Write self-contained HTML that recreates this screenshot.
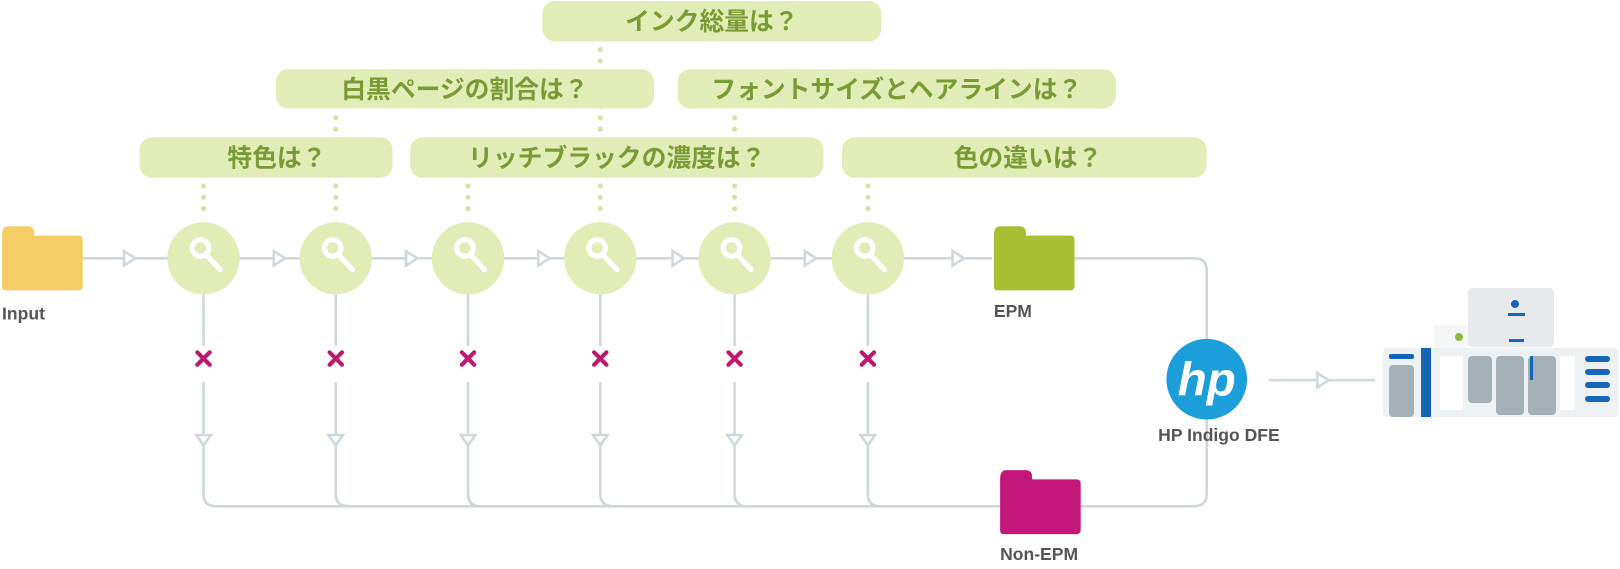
<!DOCTYPE html>
<html><head><meta charset="utf-8"><style>
body{margin:0;background:#fff;width:1620px;height:569px;overflow:hidden}
svg{display:block}
.p{fill:#e2ecb7}
.t{font-family:"Liberation Sans","Noto Sans CJK JP",sans-serif;font-size:24px;font-weight:bold;fill:#7a9a36;text-anchor:middle}
.l{font-family:"Liberation Sans",sans-serif;font-size:17px;font-weight:bold;fill:#555}
.ln{stroke:#cfd8dc;stroke-width:2.5;fill:none}
.ar{fill:#fff;stroke:#cfd8dc;stroke-width:2.5}
.dot{stroke:#d5e3a6;stroke-width:5;stroke-linecap:round;stroke-dasharray:0 11}
.x{stroke:#c0176f;stroke-width:4;stroke-linecap:round}
</style></head><body>
<svg width="1620" height="569" viewBox="0 0 1568 550.7" preserveAspectRatio="none">
<g class="dot">
<line x1="197" y1="180" x2="197" y2="212"/>
<line x1="325" y1="114" x2="325" y2="212"/>
<line x1="453" y1="180" x2="453" y2="212"/>
<line x1="581" y1="48" x2="581" y2="212"/>
<line x1="711" y1="114" x2="711" y2="212"/>
<line x1="840" y1="180" x2="840" y2="212"/>
</g>
<rect class="p" x="525" y="1" width="328" height="39" rx="12"/>
<text class="t" x="689" y="29">インク総量は？</text>
<rect class="p" x="267" y="67" width="366" height="38" rx="12"/>
<text class="t" x="450" y="95">白黒ページの割合は？</text>
<rect class="p" x="656" y="67" width="424" height="38" rx="12"/>
<text class="t" x="868" y="95">フォントサイズとヘアラインは？</text>
<rect class="p" x="135" y="133" width="245" height="39" rx="12"/>
<text class="t" x="268" y="161">特色は？</text>
<rect class="p" x="397" y="133" width="400" height="39" rx="12"/>
<text class="t" x="597" y="161">リッチブラックの濃度は？</text>
<rect class="p" x="815" y="133" width="353" height="39" rx="12"/>
<text class="t" x="995" y="161">色の違いは？</text>
<line class="ln" x1="80" y1="250" x2="960" y2="250"/>
<path class="ln" d="M1040 250 H1156 Q1168 250 1168 262 V330"/>
<path class="ln" d="M1168 405 V478 Q1168 490 1156 490 H1046"/>
<path class="ln" d="M968 490 H205"/>
<g class="ln">
<path d="M197 285 V335 M197 370 V478 Q197 490 209 490"/>
<path d="M325 285 V335 M325 370 V478 Q325 490 337 490"/>
<path d="M453 285 V335 M453 370 V478 Q453 490 465 490"/>
<path d="M581 285 V335 M581 370 V478 Q581 490 593 490"/>
<path d="M711 285 V335 M711 370 V478 Q711 490 723 490"/>
<path d="M840 285 V335 M840 370 V478 Q840 490 852 490"/>
</g>
<g class="ar">
<path d="M120 243 L131 250 L120 257Z"/><path d="M265 243 L276 250 L265 257Z"/>
<path d="M393 243 L404 250 L393 257Z"/><path d="M521 243 L532 250 L521 257Z"/>
<path d="M651 243 L662 250 L651 257Z"/><path d="M779 243 L790 250 L779 257Z"/>
<path d="M922 243 L933 250 L922 257Z"/>
<path d="M190 421 L204 421 L197 431Z"/><path d="M318 421 L332 421 L325 431Z"/>
<path d="M446 421 L460 421 L453 431Z"/><path d="M574 421 L588 421 L581 431Z"/>
<path d="M704 421 L718 421 L711 431Z"/><path d="M833 421 L847 421 L840 431Z"/>
</g>
<g class="x">
<path d="M191 341 L203 353 M203 341 L191 353"/><path d="M319 341 L331 353 M331 341 L319 353"/>
<path d="M447 341 L459 353 M459 341 L447 353"/><path d="M575 341 L587 353 M587 341 L575 353"/>
<path d="M705 341 L717 353 M717 341 L705 353"/><path d="M834 341 L846 353 M846 341 L834 353"/>
</g>
<g fill="#e2ecb7">
<circle cx="197" cy="250" r="35"/><circle cx="325" cy="250" r="35"/>
<circle cx="453" cy="250" r="35"/><circle cx="581" cy="250" r="35"/>
<circle cx="711" cy="250" r="35"/><circle cx="840" cy="250" r="35"/>
</g>
<g stroke="#fff" stroke-width="5" fill="none" stroke-linecap="round">
<g transform="translate(194,245)"><circle cx="0" cy="-5" r="8"/><line x1="6" y1="2" x2="19" y2="16"/></g>
<g transform="translate(322,245)"><circle cx="0" cy="-5" r="8"/><line x1="6" y1="2" x2="19" y2="16"/></g>
<g transform="translate(450,245)"><circle cx="0" cy="-5" r="8"/><line x1="6" y1="2" x2="19" y2="16"/></g>
<g transform="translate(578,245)"><circle cx="0" cy="-5" r="8"/><line x1="6" y1="2" x2="19" y2="16"/></g>
<g transform="translate(708,245)"><circle cx="0" cy="-5" r="8"/><line x1="6" y1="2" x2="19" y2="16"/></g>
<g transform="translate(837,245)"><circle cx="0" cy="-5" r="8"/><line x1="6" y1="2" x2="19" y2="16"/></g>
</g>
<path d="M2 228 Q2 219 8 219 H27 Q33 219 33 226 V228 H76 Q80 228 80 232 V277 Q80 281 76 281 H5 Q2 281 2 277Z" fill="#f6cd64"/>
<path d="M962 228 Q962 219 968 219 H987 Q993 219 993 226 V228 H1036 Q1040 228 1040 232 V277 Q1040 281 1036 281 H965 Q962 281 962 277Z" fill="#a8bf34"/>
<path d="M968 464 Q968 455 974 455 H993 Q999 455 999 462 V464 H1042 Q1046 464 1046 468 V513 Q1046 517 1042 517 H971 Q968 517 968 513Z" fill="#c3187a"/>
<text class="l" x="2" y="309">Input</text>
<text class="l" x="962" y="307">EPM</text>
<text class="l" x="968" y="542">Non-EPM</text>
<text class="l" x="1121" y="427">HP Indigo DFE</text>
<circle cx="1168" cy="367" r="39" fill="#1c9edb"/>
<text x="1168" y="383" font-family="Liberation Sans,sans-serif" font-size="46" font-style="italic" font-weight="bold" fill="#fff" text-anchor="middle">hp</text>
<line class="ln" x1="1228" y1="368" x2="1331" y2="368"/>
<path class="ar" d="M1275 361 L1286 368 L1275 375Z"/>
<g transform="scale(0.9679)">
<rect x="1383" y="348" width="235" height="69" rx="4" fill="#eef1f3"/>
<rect x="1468" y="288" width="86" height="59" rx="4" fill="#e6eaed"/>
<rect x="1434" y="325" width="34" height="23" rx="3" fill="#f4f6f7"/>
<circle cx="1459" cy="337" r="4" fill="#8cb83a"/>
<circle cx="1515" cy="304" r="4" fill="#1565b8"/>
<rect x="1508" y="313" width="17" height="3" fill="#1565b8"/>
<rect x="1509" y="339" width="15" height="3" fill="#1565b8"/>
<rect x="1389" y="354" width="25" height="5" rx="2" fill="#1565b8"/>
<rect x="1389" y="365" width="25" height="52" rx="4" fill="#a4b0b6"/>
<rect x="1421" y="348" width="10" height="69" fill="#1565b8"/>
<rect x="1440" y="356" width="23" height="54" fill="#fff"/>
<rect x="1468" y="356" width="24" height="47" rx="4" fill="#a4b0b6"/>
<rect x="1496" y="356" width="28" height="59" rx="4" fill="#a4b0b6"/>
<rect x="1528" y="356" width="28" height="59" rx="4" fill="#a4b0b6"/>
<rect x="1530" y="356" width="3" height="24" fill="#1565b8"/>
<rect x="1560" y="356" width="15" height="54" fill="#fff"/>
<rect x="1585" y="356" width="25" height="6" rx="3" fill="#1565b8"/>
<rect x="1585" y="369" width="25" height="6" rx="3" fill="#1565b8"/>
<rect x="1585" y="382" width="25" height="6" rx="3" fill="#1565b8"/>
<rect x="1585" y="396" width="25" height="6" rx="3" fill="#1565b8"/>
</g>
</svg>
</body></html>
